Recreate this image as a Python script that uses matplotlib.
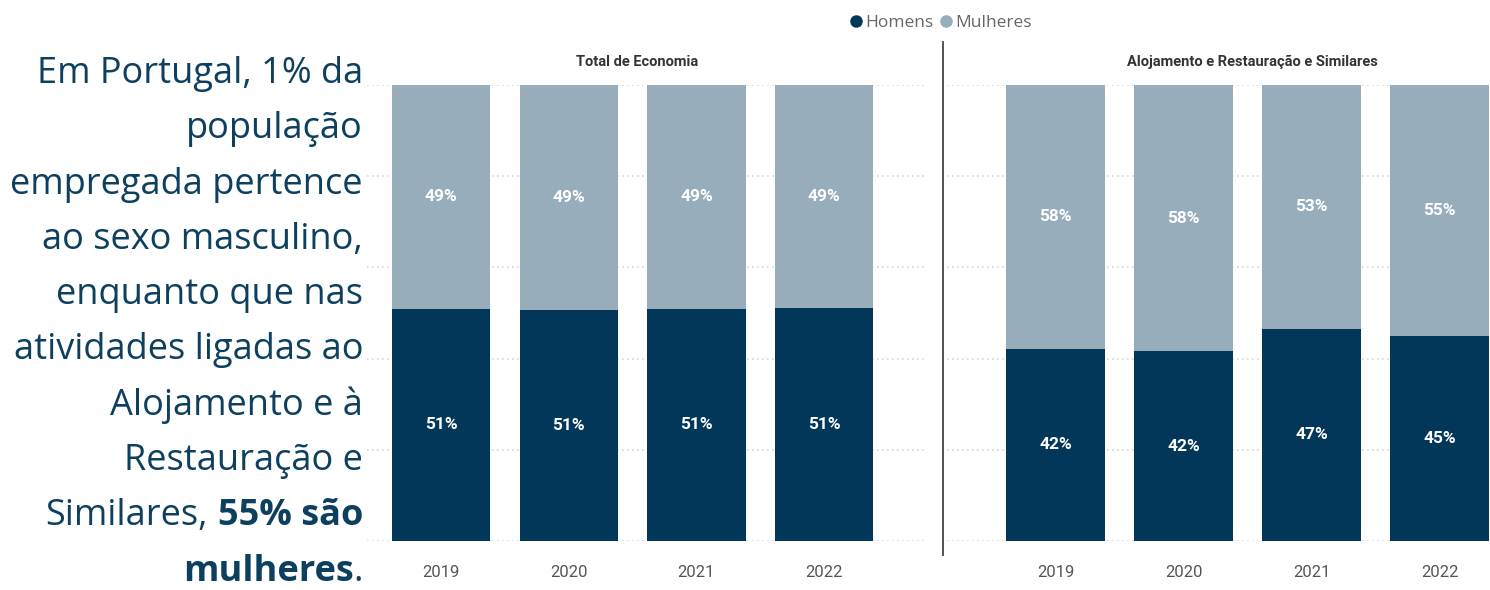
import numpy as np
import matplotlib.pyplot as plt
from matplotlib.lines import Line2D

W, H = 1490, 590

years = ["2019", "2020", "2021", "2022"]
panel_titles = ["Total de Economia", "Alojamento e Restauração e Similares"]
homens_total = [50.9, 50.7, 50.9, 51.0]
homens_aloj = [42.2, 41.6, 46.6, 45.0]
mulheres_total = [100 - v for v in homens_total]
mulheres_aloj = [100 - v for v in homens_aloj]

series_names = ["Homens", "Mulheres"]
c_homens = "#02375a"
c_mulheres = "#97adbc"
c_text = "#0d3f5e"

left_lines = [
    "Em Portugal, 1% da",
    "população",
    "empregada pertence",
    "ao sexo masculino,",
    "enquanto que nas",
    "atividades ligadas ao",
    "Alojamento e à",
    "Restauração e",
]
# last two lines mix normal and bold text
bold_lines = [("Similares, ", "55% são", ""), ("", "mulheres", ".")]


def px(x0, y0, x1, y1):
    # pixel box (from top-left) -> figure fraction rect
    return [x0 / W, 1 - y1 / H, (x1 - x0) / W, (y1 - y0) / H]


fig = plt.figure(figsize=(W / 100, H / 100), dpi=100)

panels = [
    (px(367, 85, 925, 541), (-0.58, 3.79), homens_total, mulheres_total, 637),
    (px(947, 85, 1510, 541), (-0.85, 3.55), homens_aloj, mulheres_aloj, 1252),
]

x = np.arange(len(years))
for i, (rect, xlim, hom, mul, tx) in enumerate(panels):
    ax = fig.add_axes(rect)
    ax.bar(x, hom, width=0.77, color=c_homens, zorder=3)
    ax.bar(x, mul, width=0.77, bottom=hom, color=c_mulheres, zorder=3)
    for xi, h, m in zip(x, hom, mul):
        ax.text(xi, h / 2, f"{round(h)}%", ha="center", va="center", color="white",
                fontsize=12.5, fontweight="bold", family="Roboto", zorder=4)
        ax.text(xi, h + m / 2, f"{round(m)}%", ha="center", va="center", color="white",
                fontsize=12.5, fontweight="bold", family="Roboto", zorder=4)
    ax.set_xlim(*xlim)
    ax.set_ylim(0, 100)
    ax.set_yticks([0, 20, 40, 60, 80, 100])
    ax.yaxis.grid(True, color="#d6d6d6", linestyle=(0, (1, 2)), linewidth=1.2, zorder=0)
    ax.set_axisbelow(True)
    ax.tick_params(axis="y", length=0, labelleft=False)
    ax.set_xticks(x)
    ax.set_xticklabels(years, fontsize=12, color="#555555", family="Roboto")
    ax.tick_params(axis="x", length=0, pad=17)
    for s in ax.spines.values():
        s.set_visible(False)
    fig.text(tx / W, 1 - 62 / H, panel_titles[i], ha="center", va="center",
             fontsize=10.5, color="#333333", family="Roboto", fontweight="bold")

# divider between panels
fig.add_artist(Line2D([943 / W, 943 / W], [1 - 42 / H, 1 - 555 / H], color="#444444", lw=1.3))

# legend
handles = [Line2D([], [], marker="o", linestyle="", markersize=8, color=c)
           for c in (c_homens, c_mulheres)]
fig.legend(handles, series_names, loc="center", bbox_to_anchor=(940 / W, 1 - 23 / H),
           ncol=2, frameon=False, handletextpad=0.05, columnspacing=0.3, handlelength=0.9,
           prop={"family": "Open Sans", "size": 12.5}, labelcolor="#666666")

# left annotation text
fs = 26
xr = 363 / W
base0, step = 83, 55.3
for k, line in enumerate(left_lines):
    fig.text(xr, 1 - (base0 + step * k) / H, line, ha="right", va="baseline",
             fontsize=fs, color=c_text, family="Open Sans")

renderer = fig.canvas.get_renderer()
for j, (normal, bold, tail) in enumerate(bold_lines):
    y = 1 - (base0 + step * (len(left_lines) + j)) / H
    xcur = xr
    # build the line from the right edge leftwards
    if tail:
        t = fig.text(xcur, y, tail, ha="right", va="baseline", fontsize=fs, color=c_text,
                     family="Open Sans")
        xcur -= t.get_window_extent(renderer).width / W
    t = fig.text(xcur, y, bold, ha="right", va="baseline", fontsize=fs, color=c_text,
                 family="Open Sans", fontweight="bold")
    xcur -= t.get_window_extent(renderer).width / W
    if normal:
        t = fig.text(xcur, y, normal.rstrip(), ha="right", va="baseline", fontsize=fs,
                     color=c_text, family="Open Sans")
        # leave room for the space between the two parts
        t.set_x(xcur - 0.28 * fs * 100 / 72 / W)

fig.savefig("out.png", dpi=100)
